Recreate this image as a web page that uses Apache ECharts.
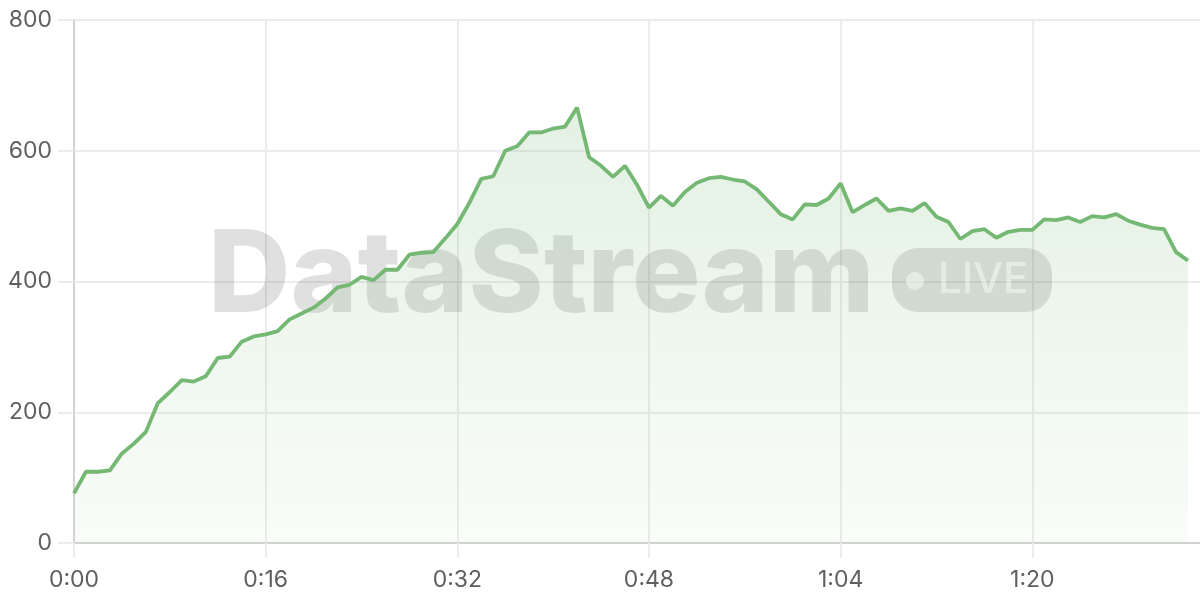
<!DOCTYPE html>
<html>
<head>
<meta charset="utf-8">
<script src="https://cdn.jsdelivr.net/npm/echarts@6/dist/echarts.min.js"></script>
<style>
html,body{margin:0;padding:0;background:#fff;}
#chart{width:1200px;height:600px;}
</style>
</head>
<body>
<div id="chart"></div>
<script>
// seconds elapsed (one sample per second)
const seconds = [
  0,1,2,3,4,5,6,7,8,9,10,11,12,13,14,15,16,17,18,19,
  20,21,22,23,24,25,26,27,28,29,30,31,32,33,34,35,36,37,38,39,
  40,41,42,43,44,45,46,47,48,49,50,51,52,53,54,55,56,57,58,59,
  60,61,62,63,64,65,66,67,68,69,70,71,72,73,74,75,76,77,78,79,
  80,81,82,83,84,85,86,87,88,89,90,91,92,93
];
const values = [
  76,109,109,111,137,152,170,214,231,249,247,255,283,285,308,316,319,324,342,351,
  360,374,391,395,407,402,418,418,441,444,445,466,488,520,557,561,600,607,628,628,
  634,637,666,590,577,560,577,548,513,531,516,537,551,558,560,556,553,541,522,503,
  495,518,517,527,550,506,517,527,508,512,508,520,499,491,465,477,480,467,476,479,
  479,495,494,498,491,500,498,503,493,487,482,480,445,432
];
const xTickSeconds = [0,16,32,48,64,80];
const yTicks = [0,200,400,600,800];
const watermarkText = 'DataStream';
const badgeText = 'LIVE';

function fmt(s){
  const m = Math.floor(s/60), r = Math.round(s%60);
  return m + ':' + (r<10?'0':'') + r;
}

const chart = echarts.init(document.getElementById('chart'), null, {renderer:'canvas'});
const labelColor = '#5f5f5f';
const fontFamily = 'Inter, "Noto Sans", sans-serif';

chart.setOption({
  animation:false,
  grid:{left:74,right:0,top:20,bottom:57,containLabel:false},
  xAxis:{
    type:'value',
    min:0,max:94,interval:16,
    axisLine:{show:true,lineStyle:{color:'#d2d2d2',width:2}},
    axisTick:{show:true,length:15,lineStyle:{color:'#ececec',width:2}},
    axisLabel:{
      color:labelColor,fontSize:23,fontFamily:fontFamily,margin:26,
      showMaxLabel:false,
      formatter:function(v){return xTickSeconds.indexOf(v)>=0?fmt(v):'';}
    },
    splitLine:{show:true,showMaxLine:false,lineStyle:{color:'#ececec',width:2}}
  },
  yAxis:{
    type:'value',
    min:yTicks[0],max:yTicks[yTicks.length-1],interval:200,
    axisLine:{show:true,lineStyle:{color:'#d2d2d2',width:2}},
    axisTick:{show:true,length:16,lineStyle:{color:'#ececec',width:2}},
    axisLabel:{color:labelColor,fontSize:23,fontFamily:fontFamily,margin:22},
    splitLine:{show:true,lineStyle:{color:'#ececec',width:2}}
  },
  graphic:[
    {
      type:'text',z:1,
      style:{
        text:watermarkText,x:208,y:278,
        font:'800 114px ' + fontFamily,
        fill:'rgba(0,0,0,0.12)',
        verticalAlign:'middle',align:'left'
      }
    },
    {
      type:'rect',z:1,
      shape:{x:892,y:248,width:160,height:64,r:26},
      style:{fill:'rgba(0,0,0,0.12)'}
    },
    {
      type:'circle',z:2,
      shape:{cx:915,cy:281,r:9},
      style:{fill:'rgba(255,255,255,0.65)'}
    },
    {
      type:'text',z:2,
      style:{
        text:badgeText,x:938,y:280,
        font:'500 42px ' + fontFamily,
        fill:'rgba(255,255,255,0.65)',
        verticalAlign:'middle',align:'left'
      }
    }
  ],
  series:[{
    type:'line',
    data:seconds.map((s,i)=>[s,values[i]]),
    showSymbol:false,
    symbol:'none',
    lineStyle:{color:'#74b873',width:3.8},
    areaStyle:{
      color:new echarts.graphic.LinearGradient(0,0,0,1,[
        {offset:0,color:'rgba(116,184,115,0.29)'},
        {offset:1,color:'rgba(116,184,115,0.06)'}
      ])
    },
    z:3
  }]
});
</script>
</body>
</html>
